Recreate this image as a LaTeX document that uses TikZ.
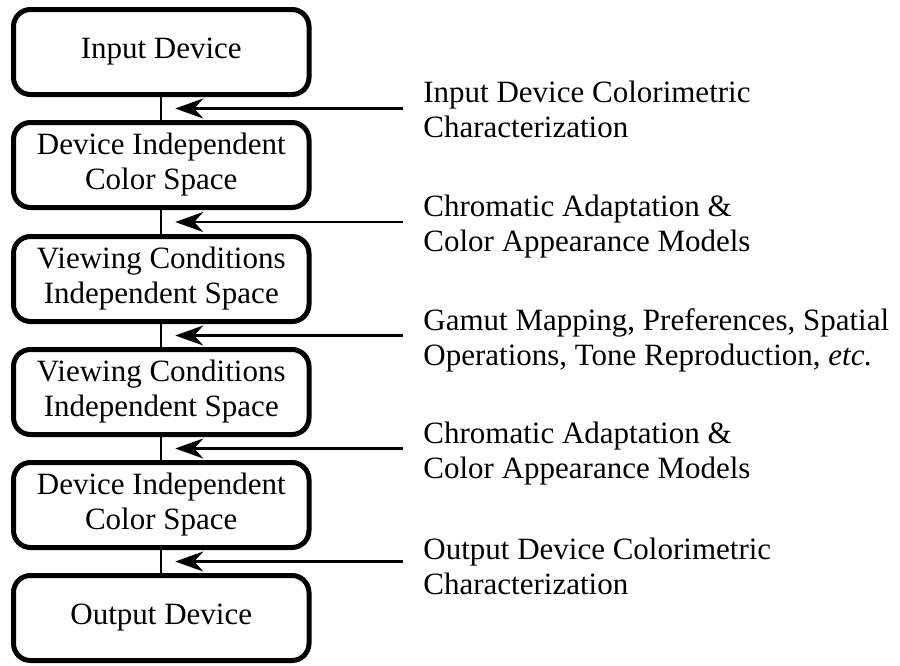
\documentclass[tikz,border=0pt]{standalone}
\usepackage{fontspec}
\setmainfont{Liberation Serif}
\usetikzlibrary{arrows.meta,calc}
\begin{document}
\begin{tikzpicture}[x=.5pt,y=-.5pt,
    >={Stealth[length=14pt,width=10pt,inset=4.5pt]},
    stage/.style={draw,line width=2.5pt,rounded corners=8.5pt,minimum width=147.75pt,
        minimum height=42.5pt,align=center,inner sep=0pt,font=\fontsize{15.5}{17.5}\selectfont},
    note/.style={anchor=west,align=left,inner xsep=10pt,inner ysep=0pt,yshift=-2.5pt,
        font=\fontsize{15.5}{17.5}\selectfont},
    link/.style={line width=1.2pt}]
    \useasboundingbox (0,0) rectangle (900,665);
    % stages of the chain
    \node[stage] (b1) at (161.25,52) {Input Device};
    \node[stage] (b2) at (161.25,165) {Device Independent\\Color Space};
    \node[stage] (b3) at (161.25,279) {Viewing Conditions\\Independent Space};
    \node[stage] (b4) at (161.25,392) {Viewing Conditions\\Independent Space};
    \node[stage] (b5) at (161.25,505) {Device Independent\\Color Space};
    \node[stage] (b6) at (161.25,618) {Output Device};
    \draw[link] (b1)--(b2);
    \draw[link] (b2)--(b3);
    \draw[link] (b3)--(b4);
    \draw[link] (b4)--(b5);
    \draw[link] (b5)--(b6);
    % midpoints of the gaps
    \coordinate (g1) at ($(b1.south)!.5!(b2.north)$);
    \coordinate (g2) at ($(b2.south)!.5!(b3.north)$);
    \coordinate (g3) at ($(b3.south)!.5!(b4.north)$);
    \coordinate (g4) at ($(b4.south)!.5!(b5.north)$);
    \coordinate (g5) at ($(b5.south)!.5!(b6.north)$);
    % transforms
    \node[note,yshift=2pt] (n1) at (403,0 |- g1) {Input Device Colorimetric\\Characterization};
    \node[note] (n2) at (403,0 |- g2) {Chromatic Adaptation \&\\Color Appearance Models};
    \node[note] (n3) at (403,0 |- g3) {Gamut Mapping, Preferences, Spatial\\Operations, Tone Reproduction, \textit{etc.}};
    \node[note] (n4) at (403,0 |- g4) {Chromatic Adaptation \&\\Color Appearance Models};
    \node[note] (n5) at (403,0 |- g5) {Output Device Colorimetric\\Characterization};
    \draw[link,->,shorten >=7pt] (n1.west|-g1)--(g1);
    \draw[link,->,shorten >=7pt] (n2.west|-g2)--(g2);
    \draw[link,->,shorten >=7pt] (n3.west|-g3)--(g3);
    \draw[link,->,shorten >=7pt] (n4.west|-g4)--(g4);
    \draw[link,->,shorten >=7pt] (n5.west|-g5)--(g5);
\end{tikzpicture}
\end{document}
